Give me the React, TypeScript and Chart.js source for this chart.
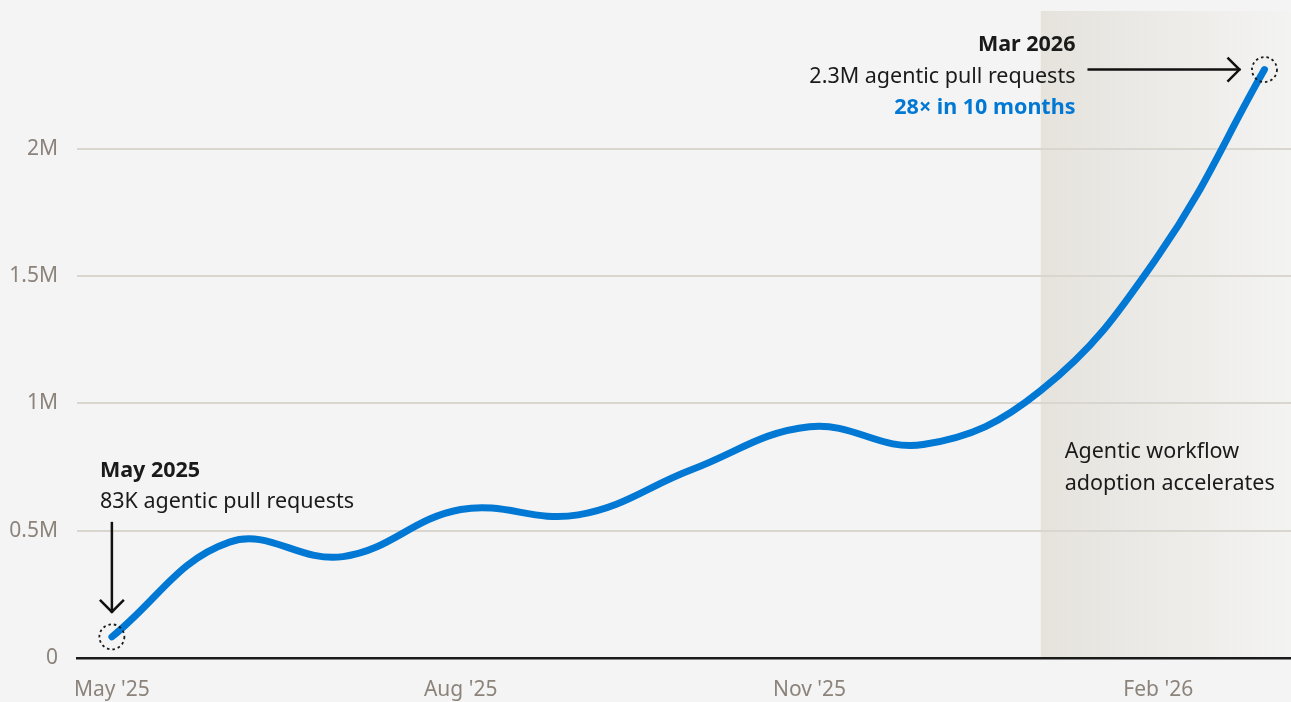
import React, { useEffect, useRef } from "react";
import { Chart, registerables } from "chart.js";

Chart.register(...registerables);

// ---- data ----
const monthDates = [
  "2025-05-01", "2025-06-01", "2025-07-01", "2025-08-01", "2025-09-01", "2025-10-01",
  "2025-11-01", "2025-12-01", "2026-01-01", "2026-02-01", "2026-03-01",
];
const pullRequestsM = [0.083, 0.455, 0.398, 0.583, 0.562, 0.74, 0.908, 0.838, 1.05, 1.58, 2.31];

const xTickDates = ["2025-05-01", "2025-08-01", "2025-11-01", "2026-02-01"];
const xTickLabels = ["May '25", "Aug '25", "Nov '25", "Feb '26"];

const yTickValues = [0, 0.5, 1, 1.5, 2];
const yTickLabels = ["0", "0.5M", "1M", "1.5M", "2M"];

const shadeStartDate = "2026-01-01";

const startTitle = "May 2025";
const startText = "83K agentic pull requests";
const endTitle = "Mar 2026";
const endText = "2.3M agentic pull requests";
const endHighlight = "28× in 10 months";
const shadeLines = ["Agentic workflow", "adoption accelerates"];

// ---- helpers ----
const ORIGIN = Date.UTC(2025, 4, 1);
const toDay = (s: string) => {
  const [y, m, d] = s.split("-").map(Number);
  return (Date.UTC(y, m - 1, d) - ORIGIN) / 864e5;
};

const FONT = "'Noto Sans', 'Open Sans', sans-serif";
const BLUE = "#0078d4";
const TICK_COLOR = "#8c837b";
const TEXT_SIZE = 21.5;

const annotationPlugin = {
  id: "annot",
  beforeDraw(chart: any) {
    const { ctx, chartArea, scales } = chart;
    ctx.save();
    ctx.fillStyle = "#f4f4f4";
    ctx.fillRect(0, 0, chart.width, chart.height);
    const x0 = scales.x.getPixelForValue(toDay(shadeStartDate));
    const g = ctx.createLinearGradient(x0, 0, chartArea.right, 0);
    g.addColorStop(0, "#e6e3dd");
    g.addColorStop(1, "#f3f3f2");
    ctx.fillStyle = g;
    ctx.fillRect(x0, chartArea.top, chartArea.right - x0, chartArea.bottom - chartArea.top);
    ctx.restore();
  },
  afterDatasetsDraw(chart: any) {
    const { ctx, scales } = chart;
    const pts = chart.getDatasetMeta(0).data;
    const p0 = pts[0];
    const p1 = pts[pts.length - 1];
    ctx.save();

    // dotted circles
    ctx.strokeStyle = "#1a1a1a";
    ctx.lineWidth = 1.8;
    ctx.setLineDash([2.5, 3]);
    for (const p of [p0, p1]) {
      ctx.beginPath();
      ctx.arc(p.x, p.y, 12.5, 0, Math.PI * 2);
      ctx.stroke();
    }
    ctx.setLineDash([]);

    // arrows
    ctx.strokeStyle = "#111";
    ctx.lineWidth = 2.5;
    ctx.lineCap = "butt";
    const ay0 = p0.y - 115;
    const ay1 = p0.y - 24;
    ctx.beginPath();
    ctx.moveTo(p0.x, ay0);
    ctx.lineTo(p0.x, ay1);
    ctx.stroke();
    ctx.beginPath();
    ctx.moveTo(p0.x - 12, ay1 - 13);
    ctx.lineTo(p0.x, ay1 - 1);
    ctx.lineTo(p0.x + 12, ay1 - 13);
    ctx.stroke();
    const ax0 = p1.x - 177;
    const ax1 = p1.x - 24;
    ctx.beginPath();
    ctx.moveTo(ax0, p1.y);
    ctx.lineTo(ax1, p1.y);
    ctx.stroke();
    ctx.beginPath();
    ctx.moveTo(ax1 - 13, p1.y - 12);
    ctx.lineTo(ax1 - 1, p1.y);
    ctx.lineTo(ax1 - 13, p1.y + 12);
    ctx.stroke();

    // texts
    ctx.textBaseline = "middle";
    ctx.fillStyle = "#1a1a1a";
    ctx.textAlign = "left";
    ctx.font = `bold ${TEXT_SIZE}px ${FONT}`;
    ctx.fillText(startTitle, p0.x - 12, p0.y - 166);
    ctx.font = `${TEXT_SIZE}px ${FONT}`;
    ctx.fillText(startText, p0.x - 12, p0.y - 135);

    ctx.textAlign = "right";
    const tx = ax0 - 12;
    ctx.font = `bold ${TEXT_SIZE}px ${FONT}`;
    ctx.fillText(endTitle, tx, p1.y - 25);
    ctx.font = `${TEXT_SIZE}px ${FONT}`;
    ctx.fillText(endText, tx, p1.y + 7);
    ctx.fillStyle = BLUE;
    ctx.font = `bold ${TEXT_SIZE}px ${FONT}`;
    ctx.fillText(endHighlight, tx, p1.y + 38);

    const sx = scales.x.getPixelForValue(toDay(shadeStartDate)) + 24;
    ctx.textAlign = "left";
    ctx.fillStyle = "#1a1a1a";
    ctx.font = `${TEXT_SIZE}px ${FONT}`;
    const sy = scales.y.getPixelForValue(0.81);
    ctx.fillText(shadeLines[0], sx, sy);
    ctx.fillText(shadeLines[1], sx, sy + 32);

    ctx.restore();
  },
};

export default function App() {
  const ref = useRef<HTMLCanvasElement>(null);
  useEffect(() => {
    document.body.style.margin = "0";
    const canvas = ref.current!;
    const data = monthDates.map((d, i) => ({ x: toDay(d), y: pullRequestsM[i] }));
    const xTickDays = xTickDates.map(toDay);
    const chart = new Chart(canvas, {
      type: "line",
      data: {
        datasets: [
          {
            data,
            borderColor: BLUE,
            borderWidth: 7,
            tension: 0.4,
            pointRadius: 0,
            borderCapStyle: "round",
            fill: false,
          },
        ],
      },
      options: {
        animation: false,
        responsive: false,
        events: [],
        layout: { padding: { top: 11, right: 0, left: 0, bottom: 0 } },
        plugins: { legend: { display: false }, tooltip: { enabled: false } },
        scales: {
          x: {
            type: "linear",
            min: -9.2,
            max: 311,
            afterBuildTicks: (axis: any) => {
              axis.ticks = xTickDays.map((v) => ({ value: v }));
            },
            afterFit: (axis: any) => {
              axis.height = 44;
              axis.paddingLeft = 0;
              axis.paddingRight = 0;
            },
            grid: { display: false, drawTicks: false },
            border: { display: true, color: "#1a1a1a", width: 2.5 },
            ticks: {
              color: TICK_COLOR,
              font: { family: FONT, size: 21 },
              padding: 19,
              maxRotation: 0,
              autoSkip: false,
              callback: (v: any) => {
                const i = xTickDays.indexOf(Number(v));
                return i >= 0 ? xTickLabels[i] : "";
              },
            },
          },
          y: {
            min: 0,
            max: 2.54,
            afterBuildTicks: (axis: any) => {
              axis.ticks = yTickValues.map((v) => ({ value: v }));
            },
            afterFit: (axis: any) => {
              axis.width = 77;
              axis.paddingTop = 0;
              axis.paddingBottom = 0;
            },
            grid: { color: "#d9d5cf", lineWidth: 2, drawTicks: false },
            border: { display: false },
            ticks: {
              color: TICK_COLOR,
              font: { family: FONT, size: 21 },
              padding: 19,
              callback: (v: any) => {
                const i = yTickValues.indexOf(Number(v));
                return i >= 0 ? yTickLabels[i] : "";
              },
            },
          },
        },
      },
      plugins: [annotationPlugin],
    } as any);
    return () => chart.destroy();
  }, []);
  return (
    <div style={{ width: 1291, height: 702, background: "#f4f4f4" }}>
      <canvas ref={ref} width={1291} height={702} style={{ display: "block" }} />
    </div>
  );
}
